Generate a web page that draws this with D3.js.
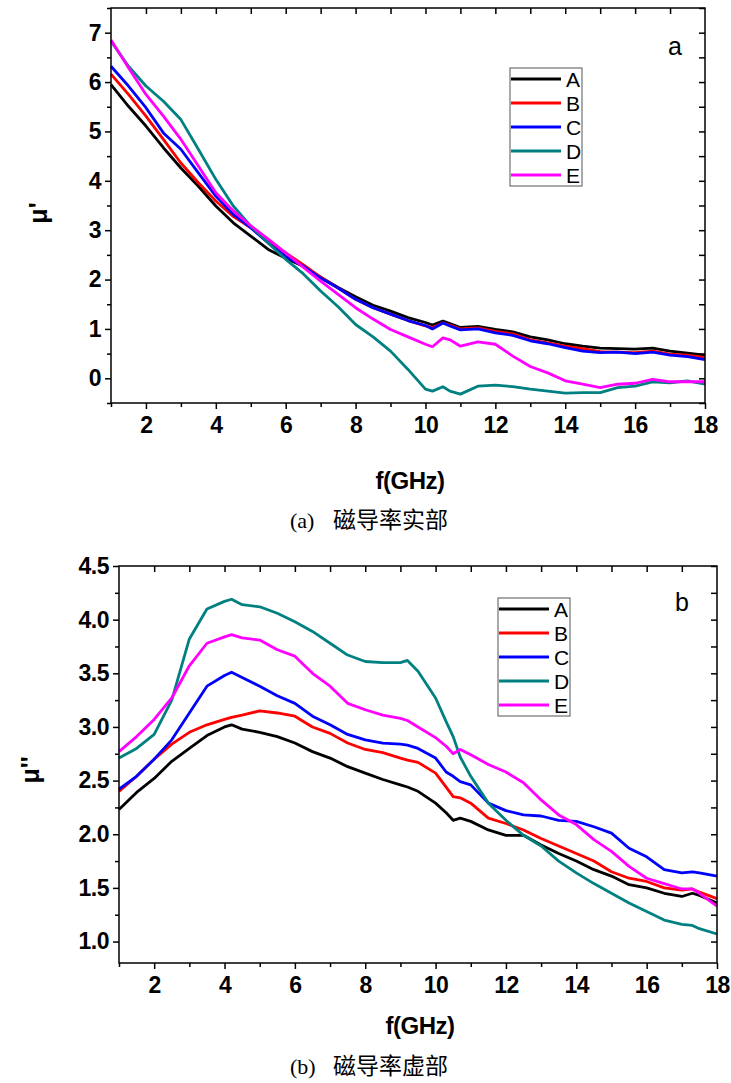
<!DOCTYPE html>
<html>
<head>
<meta charset="utf-8">
<script src="https://cdn.jsdelivr.net/npm/d3@7"></script>
<style>
  body { margin: 0; background: #fff; }
  svg { display: block; }
  .tick text { font-family: "Liberation Sans", Arial, sans-serif; font-weight: bold; }
</style>
</head>
<body>
<div class="plot"></div>
<script>
// series names + colours
const names = ["A", "B", "C", "D", "E"];
const colors = ["#000000", "#ff0000", "#0000ff", "#008080", "#ff00ff"];

// (a) real part mu'
const freqA = [1, 1.5, 2, 2.5, 3, 3.5, 4, 4.5, 5, 5.5, 6, 6.5, 7, 7.5, 8, 8.5, 9, 9.5, 10, 10.2, 10.5, 10.7, 11, 11.5, 12, 12.5, 13, 13.5, 14, 14.5, 15, 15.5, 16, 16.5, 17, 17.5, 18];
const realA = [5.95, 5.51, 5.11, 4.67, 4.26, 3.89, 3.49, 3.15, 2.88, 2.61, 2.43, 2.27, 2.05, 1.84, 1.65, 1.48, 1.36, 1.23, 1.13, 1.08, 1.16, 1.11, 1.03, 1.05, 0.99, 0.94, 0.84, 0.78, 0.7, 0.65, 0.61, 0.6, 0.59, 0.61, 0.55, 0.51, 0.47];
const realB = [6.16, 5.75, 5.31, 4.84, 4.36, 3.96, 3.59, 3.28, 3.05, 2.78, 2.54, 2.3, 2.05, 1.83, 1.6, 1.43, 1.3, 1.17, 1.06, 1.03, 1.12, 1.08, 1.0, 1.02, 0.95, 0.9, 0.78, 0.72, 0.65, 0.6, 0.54, 0.53, 0.52, 0.55, 0.49, 0.47, 0.42];
const realC = [6.32, 5.92, 5.48, 4.97, 4.64, 4.16, 3.69, 3.32, 3.05, 2.74, 2.47, 2.27, 2.03, 1.83, 1.6, 1.43, 1.3, 1.17, 1.07, 1.0, 1.12, 1.06, 0.98, 1.0, 0.92, 0.87, 0.76, 0.7, 0.62, 0.55, 0.52, 0.53, 0.5, 0.53, 0.47, 0.44, 0.38];
const realD = [6.83, 6.32, 5.92, 5.61, 5.24, 4.64, 4.03, 3.49, 3.08, 2.74, 2.41, 2.12, 1.77, 1.45, 1.09, 0.84, 0.55, 0.18, -0.22, -0.26, -0.17, -0.26, -0.32, -0.16, -0.14, -0.17, -0.22, -0.26, -0.3, -0.29, -0.29, -0.19, -0.16, -0.07, -0.09, -0.05, -0.12];
const realE = [6.85, 6.29, 5.75, 5.31, 4.84, 4.3, 3.76, 3.39, 3.09, 2.82, 2.54, 2.25, 1.97, 1.7, 1.43, 1.2, 0.99, 0.84, 0.69, 0.64, 0.82, 0.78, 0.65, 0.74, 0.69, 0.45, 0.24, 0.11, -0.05, -0.12, -0.19, -0.12, -0.1, -0.02, -0.07, -0.07, -0.07];

// (b) imaginary part mu''
const freqB = [1, 1.5, 2, 2.5, 3, 3.5, 4, 4.2, 4.5, 5, 5.5, 6, 6.5, 7, 7.5, 8, 8.5, 9, 9.2, 9.5, 10, 10.3, 10.5, 10.7, 11, 11.5, 12, 12.5, 13, 13.5, 14, 14.5, 15, 15.5, 16, 16.5, 17, 17.3, 17.5, 18];
const imagA = [2.23, 2.39, 2.52, 2.68, 2.8, 2.92, 3.0, 3.02, 2.98, 2.95, 2.91, 2.85, 2.77, 2.71, 2.63, 2.57, 2.51, 2.46, 2.44, 2.4, 2.29, 2.2, 2.13, 2.15, 2.12, 2.04, 1.99, 1.99, 1.9, 1.82, 1.75, 1.67, 1.61, 1.53, 1.5, 1.45, 1.42, 1.45, 1.43, 1.36];
const imagB = [2.4, 2.54, 2.7, 2.84, 2.95, 3.02, 3.07, 3.09, 3.11, 3.15, 3.13, 3.1, 3.0, 2.94, 2.85, 2.79, 2.76, 2.71, 2.69, 2.67, 2.57, 2.44, 2.35, 2.34, 2.29, 2.15, 2.1, 2.04, 1.96, 1.89, 1.82, 1.75, 1.65, 1.59, 1.56, 1.5, 1.48, 1.49, 1.46, 1.4];
const imagC = [2.42, 2.54, 2.7, 2.88, 3.13, 3.38, 3.48, 3.51, 3.46, 3.38, 3.29, 3.22, 3.1, 3.02, 2.93, 2.88, 2.85, 2.84, 2.83, 2.8, 2.71, 2.58, 2.54, 2.49, 2.46, 2.29, 2.22, 2.18, 2.17, 2.13, 2.12, 2.07, 2.01, 1.87, 1.79, 1.67, 1.64, 1.65, 1.64, 1.61];
const imagD = [2.71, 2.8, 2.93, 3.25, 3.82, 4.1, 4.17, 4.19, 4.14, 4.12, 4.06, 3.98, 3.89, 3.78, 3.67, 3.61, 3.6, 3.6, 3.62, 3.52, 3.27, 3.05, 2.91, 2.72, 2.54, 2.29, 2.13, 1.99, 1.89, 1.75, 1.64, 1.54, 1.45, 1.36, 1.28, 1.2, 1.16, 1.15, 1.12, 1.07];
const imagE = [2.77, 2.91, 3.07, 3.27, 3.57, 3.78, 3.84, 3.86, 3.83, 3.81, 3.72, 3.66, 3.5, 3.38, 3.22, 3.16, 3.11, 3.08, 3.06, 3.0, 2.9, 2.82, 2.75, 2.79, 2.74, 2.65, 2.58, 2.48, 2.32, 2.18, 2.09, 1.95, 1.84, 1.7, 1.59, 1.54, 1.49, 1.49, 1.45, 1.33];

// tick values
const xMajor = [2, 4, 6, 8, 10, 12, 14, 16, 18];
const xMinor = [1, 3, 5, 7, 9, 11, 13, 15, 17];
const xAll = d3.range(2, 18, 1);
const yMajorA = [0, 1, 2, 3, 4, 5, 6, 7];
const yMinorA = [-0.5, 0.5, 1.5, 2.5, 3.5, 4.5, 5.5, 6.5, 7.5];
const yMajorB = [1.0, 1.5, 2.0, 2.5, 3.0, 3.5, 4.0, 4.5];
const yMinorB = [1.25, 1.75, 2.25, 2.75, 3.25, 3.75, 4.25];

const svg = d3.select(".plot").append("svg")
    .attr("width", 731)
    .attr("height", 1083);

function drawPanel(opt) {
    const x = d3.scaleLinear().domain([1, 18]).range([opt.left, opt.right]);
    const y = d3.scaleLinear().domain(opt.yDomain).range([opt.bottom, opt.top]);
    const g = svg.append("g");

    // curves
    const line = d3.line().x(d => x(d[0])).y(d => y(d[1]));
    opt.series.forEach(function(vals, i) {
        g.append("path")
            .datum(opt.freq.map((f, j) => [f, vals[j]]))
            .attr("fill", "none")
            .attr("stroke", colors[i])
            .attr("stroke-width", 2.8)
            .attr("stroke-linejoin", "round")
            .attr("d", line);
    });

    // bottom axis
    g.append("g").attr("transform", "translate(0," + opt.bottom + ")")
        .call(d3.axisBottom(x).tickValues(xMajor).tickSize(6).tickPadding(8))
        .call(a => a.selectAll("text").attr("font-size", 23).attr("letter-spacing", -0.5));
    g.append("g").attr("transform", "translate(0," + opt.bottom + ")")
        .call(d3.axisBottom(x).tickValues(xMinor).tickSize(4).tickFormat(""));
    // top axis, ticks inward
    g.append("g").attr("transform", "translate(0," + opt.top + ")")
        .call(d3.axisTop(x).tickValues(xAll).tickSize(-6).tickFormat(""));
    // left axis
    g.append("g").attr("transform", "translate(" + opt.left + ",0)")
        .call(d3.axisLeft(y).tickValues(opt.yMajor).tickSize(6).tickPadding(4).tickFormat(opt.fmt))
        .call(a => a.selectAll("text").attr("font-size", 23).attr("letter-spacing", -0.5));
    g.append("g").attr("transform", "translate(" + opt.left + ",0)")
        .call(d3.axisLeft(y).tickValues(opt.yMinor).tickSize(4).tickFormat(""));
    // right axis, ticks inward
    g.append("g").attr("transform", "translate(" + opt.right + ",0)")
        .call(d3.axisRight(y).tickValues(opt.yMajor.concat(opt.yMinor)).tickSize(-6).tickFormat(""));

    g.selectAll(".domain").remove();
    g.selectAll(".tick line").attr("stroke-width", 1.5);
    g.append("rect")
        .attr("x", opt.left).attr("y", opt.top)
        .attr("width", opt.right - opt.left).attr("height", opt.bottom - opt.top)
        .attr("fill", "none").attr("stroke", "#000").attr("stroke-width", 1.5);

    // legend
    const lg = g.append("g").attr("transform", "translate(" + opt.legX + "," + opt.legY + ")");
    lg.append("rect")
        .attr("width", 72).attr("height", 118)
        .attr("fill", "#fff").attr("stroke", "#555").attr("stroke-width", 1);
    names.forEach(function(n, i) {
        const yy = 11 + i * 24;
        lg.append("line")
            .attr("x1", 1).attr("x2", 51).attr("y1", yy).attr("y2", yy)
            .attr("stroke", colors[i]).attr("stroke-width", 3);
        lg.append("text")
            .attr("x", 56).attr("y", yy + 7.5)
            .attr("font-family", "Liberation Sans, Arial, sans-serif")
            .attr("font-size", 21)
            .text(n);
    });

    // panel letter
    g.append("text")
        .attr("x", opt.tagX).attr("y", opt.tagY)
        .attr("font-family", "Liberation Sans, Arial, sans-serif")
        .attr("font-size", 25)
        .text(opt.tag);

    // axis titles
    g.append("text")
        .attr("transform", "translate(" + opt.yTitleX + "," + opt.yTitleY + ") rotate(-90)")
        .attr("text-anchor", "middle")
        .attr("font-family", "Liberation Sans, Arial, sans-serif")
        .attr("font-weight", "bold")
        .attr("font-size", 25)
        .text(opt.yTitle);
    g.append("text")
        .attr("x", opt.xTitleX).attr("y", opt.xTitleY)
        .attr("text-anchor", "middle")
        .attr("font-family", "Liberation Sans, Arial, sans-serif")
        .attr("font-weight", "bold")
        .attr("font-size", 24)
        .attr("letter-spacing", -0.5)
        .text("f(GHz)");

    // caption
    const cap = g.append("text")
        .attr("y", opt.capY)
        .attr("font-size", 22);
    cap.append("tspan")
        .attr("x", 290)
        .attr("font-family", "Liberation Serif, serif")
        .text(opt.capTag);
    cap.append("tspan")
        .attr("x", 333)
        .attr("font-family", "'Noto Sans CJK SC', sans-serif")
        .attr("font-size", 23)
        .text(opt.caption);
}

drawPanel({
    left: 111, right: 705, top: 8, bottom: 403,
    yDomain: [-0.5, 7.5],
    yMajor: yMajorA, yMinor: yMinorA, fmt: d3.format("d"),
    freq: freqA, series: [realA, realB, realC, realD, realE],
    legX: 510, legY: 68,
    tag: "a", tagX: 668, tagY: 55,
    yTitle: "\u03bc'", yTitleX: 47, yTitleY: 213,
    xTitleX: 410, xTitleY: 489,
    capTag: "(a)", caption: "磁导率实部", capY: 528
});

drawPanel({
    left: 119, right: 717, top: 566, bottom: 963,
    yDomain: [0.8, 4.5],
    yMajor: yMajorB, yMinor: yMinorB, fmt: d3.format(".1f"),
    freq: freqB, series: [imagA, imagB, imagC, imagD, imagE],
    legX: 498, legY: 598,
    tag: "b", tagX: 675, tagY: 611,
    yTitle: "\u03bc''", yTitleX: 39, yTitleY: 770,
    xTitleX: 420, xTitleY: 1034,
    capTag: "(b)", caption: "磁导率虚部", capY: 1074
});
</script>
</body>
</html>
